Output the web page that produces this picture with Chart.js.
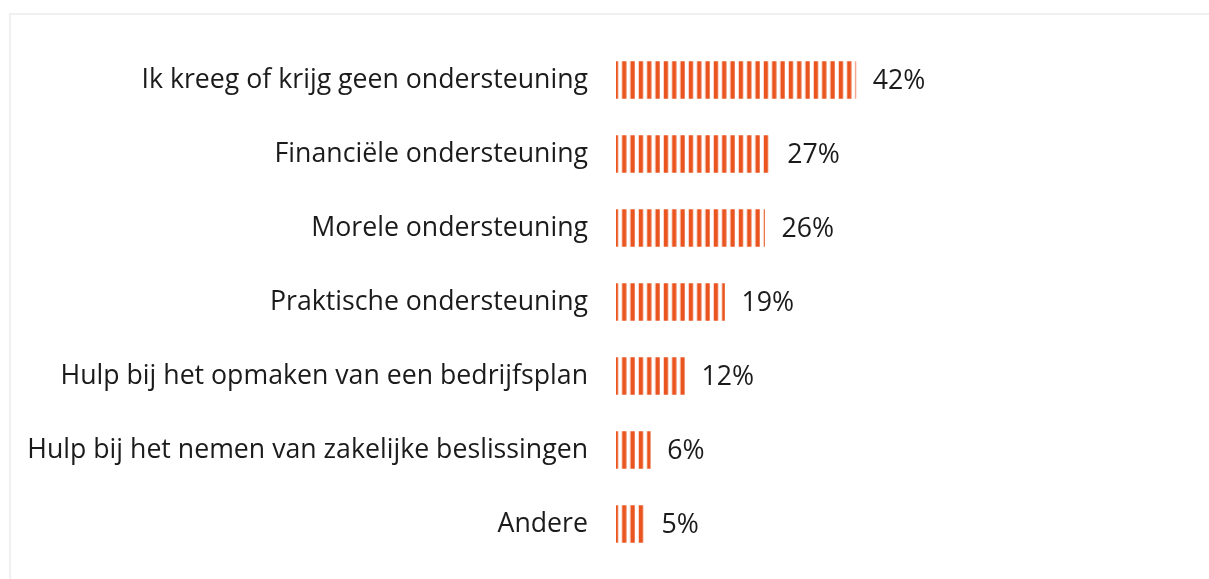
<!DOCTYPE html>
<html>
<head>
<meta charset="utf-8">
<script src="https://cdn.jsdelivr.net/npm/chart.js@4/dist/chart.umd.min.js"></script>
<style>
    body { margin: 0; background: #fff; overflow: hidden; }
    #frame { position: absolute; left: 9px; top: 13px; width: 1300px; height: 700px; border: 2px solid #f0f0f0; }
    #wrap { position: absolute; left: 0; top: 0; width: 1209px; height: 579px; }
</style>
</head>
<body>
<div id="frame"></div>
<div id="wrap"><canvas id="steunChart"></canvas></div>
<script>
const categories = [
    'Ik kreeg of krijg geen ondersteuning',
    'Financiële ondersteuning',
    'Morele ondersteuning',
    'Praktische ondersteuning',
    'Hulp bij het opmaken van een bedrijfsplan',
    'Hulp bij het nemen van zakelijke beslissingen',
    'Andere',
];
const percentages = [42, 27, 26, 19, 12, 6, 5];

const oranje = '#e9541f';
const fontSize = 26.7;

// streepjespatroon voor de balken
function maakStrepen() {
    var c = document.createElement('canvas');
    c.width = 25;
    c.height = 10;
    var ctx = c.getContext('2d');
    ctx.fillStyle = oranje;
    ctx.fillRect(0, 0, 4.3, 10);
    ctx.fillRect(8.33, 0, 4.3, 10);
    ctx.fillRect(16.67, 0, 4.3, 10);
    var p = ctx.createPattern(c, 'repeat');
    p.setTransform(new DOMMatrix().translate(613.7, 0));
    return p;
}

const waardeLabels = {
    id: 'waardeLabels',
    afterDatasetsDraw(chart) {
        const ctx = chart.ctx;
        const meta = chart.getDatasetMeta(0);
        ctx.save();
        ctx.font = fontSize + 'px "Open Sans"';
        ctx.fillStyle = '#1b1b1b';
        ctx.textBaseline = 'middle';
        meta.data.forEach((bar, i) => {
            ctx.fillText(percentages[i] + '%', bar.x + 17, bar.y + 1);
        });
        ctx.restore();
    },
};

new Chart(document.getElementById('steunChart'), {
    type: 'bar',
    data: {
        labels: categories,
        datasets: [
            {
                data: percentages,
                backgroundColor: maakStrepen(),
                borderWidth: 0,
                barThickness: 37,
            },
        ],
    },
    options: {
        indexAxis: 'y',
        responsive: true,
        maintainAspectRatio: false,
        animation: false,
        layout: { padding: { top: 43, bottom: 18, left: 0, right: 22 } },
        plugins: {
            legend: { display: false },
            tooltip: { enabled: false },
        },
        scales: {
            x: { display: false, min: 0, max: 100 },
            y: {
                grid: { display: false, drawTicks: false },
                border: { display: false },
                ticks: {
                    padding: 28,
                    color: '#1b1b1b',
                    font: { family: '"Open Sans"', size: fontSize },
                },
                afterFit(scale) {
                    scale.width = 616;
                    scale.paddingTop = 0;
                    scale.paddingBottom = 0;
                },
            },
        },
    },
    plugins: [waardeLabels],
});
</script>
</body>
</html>
